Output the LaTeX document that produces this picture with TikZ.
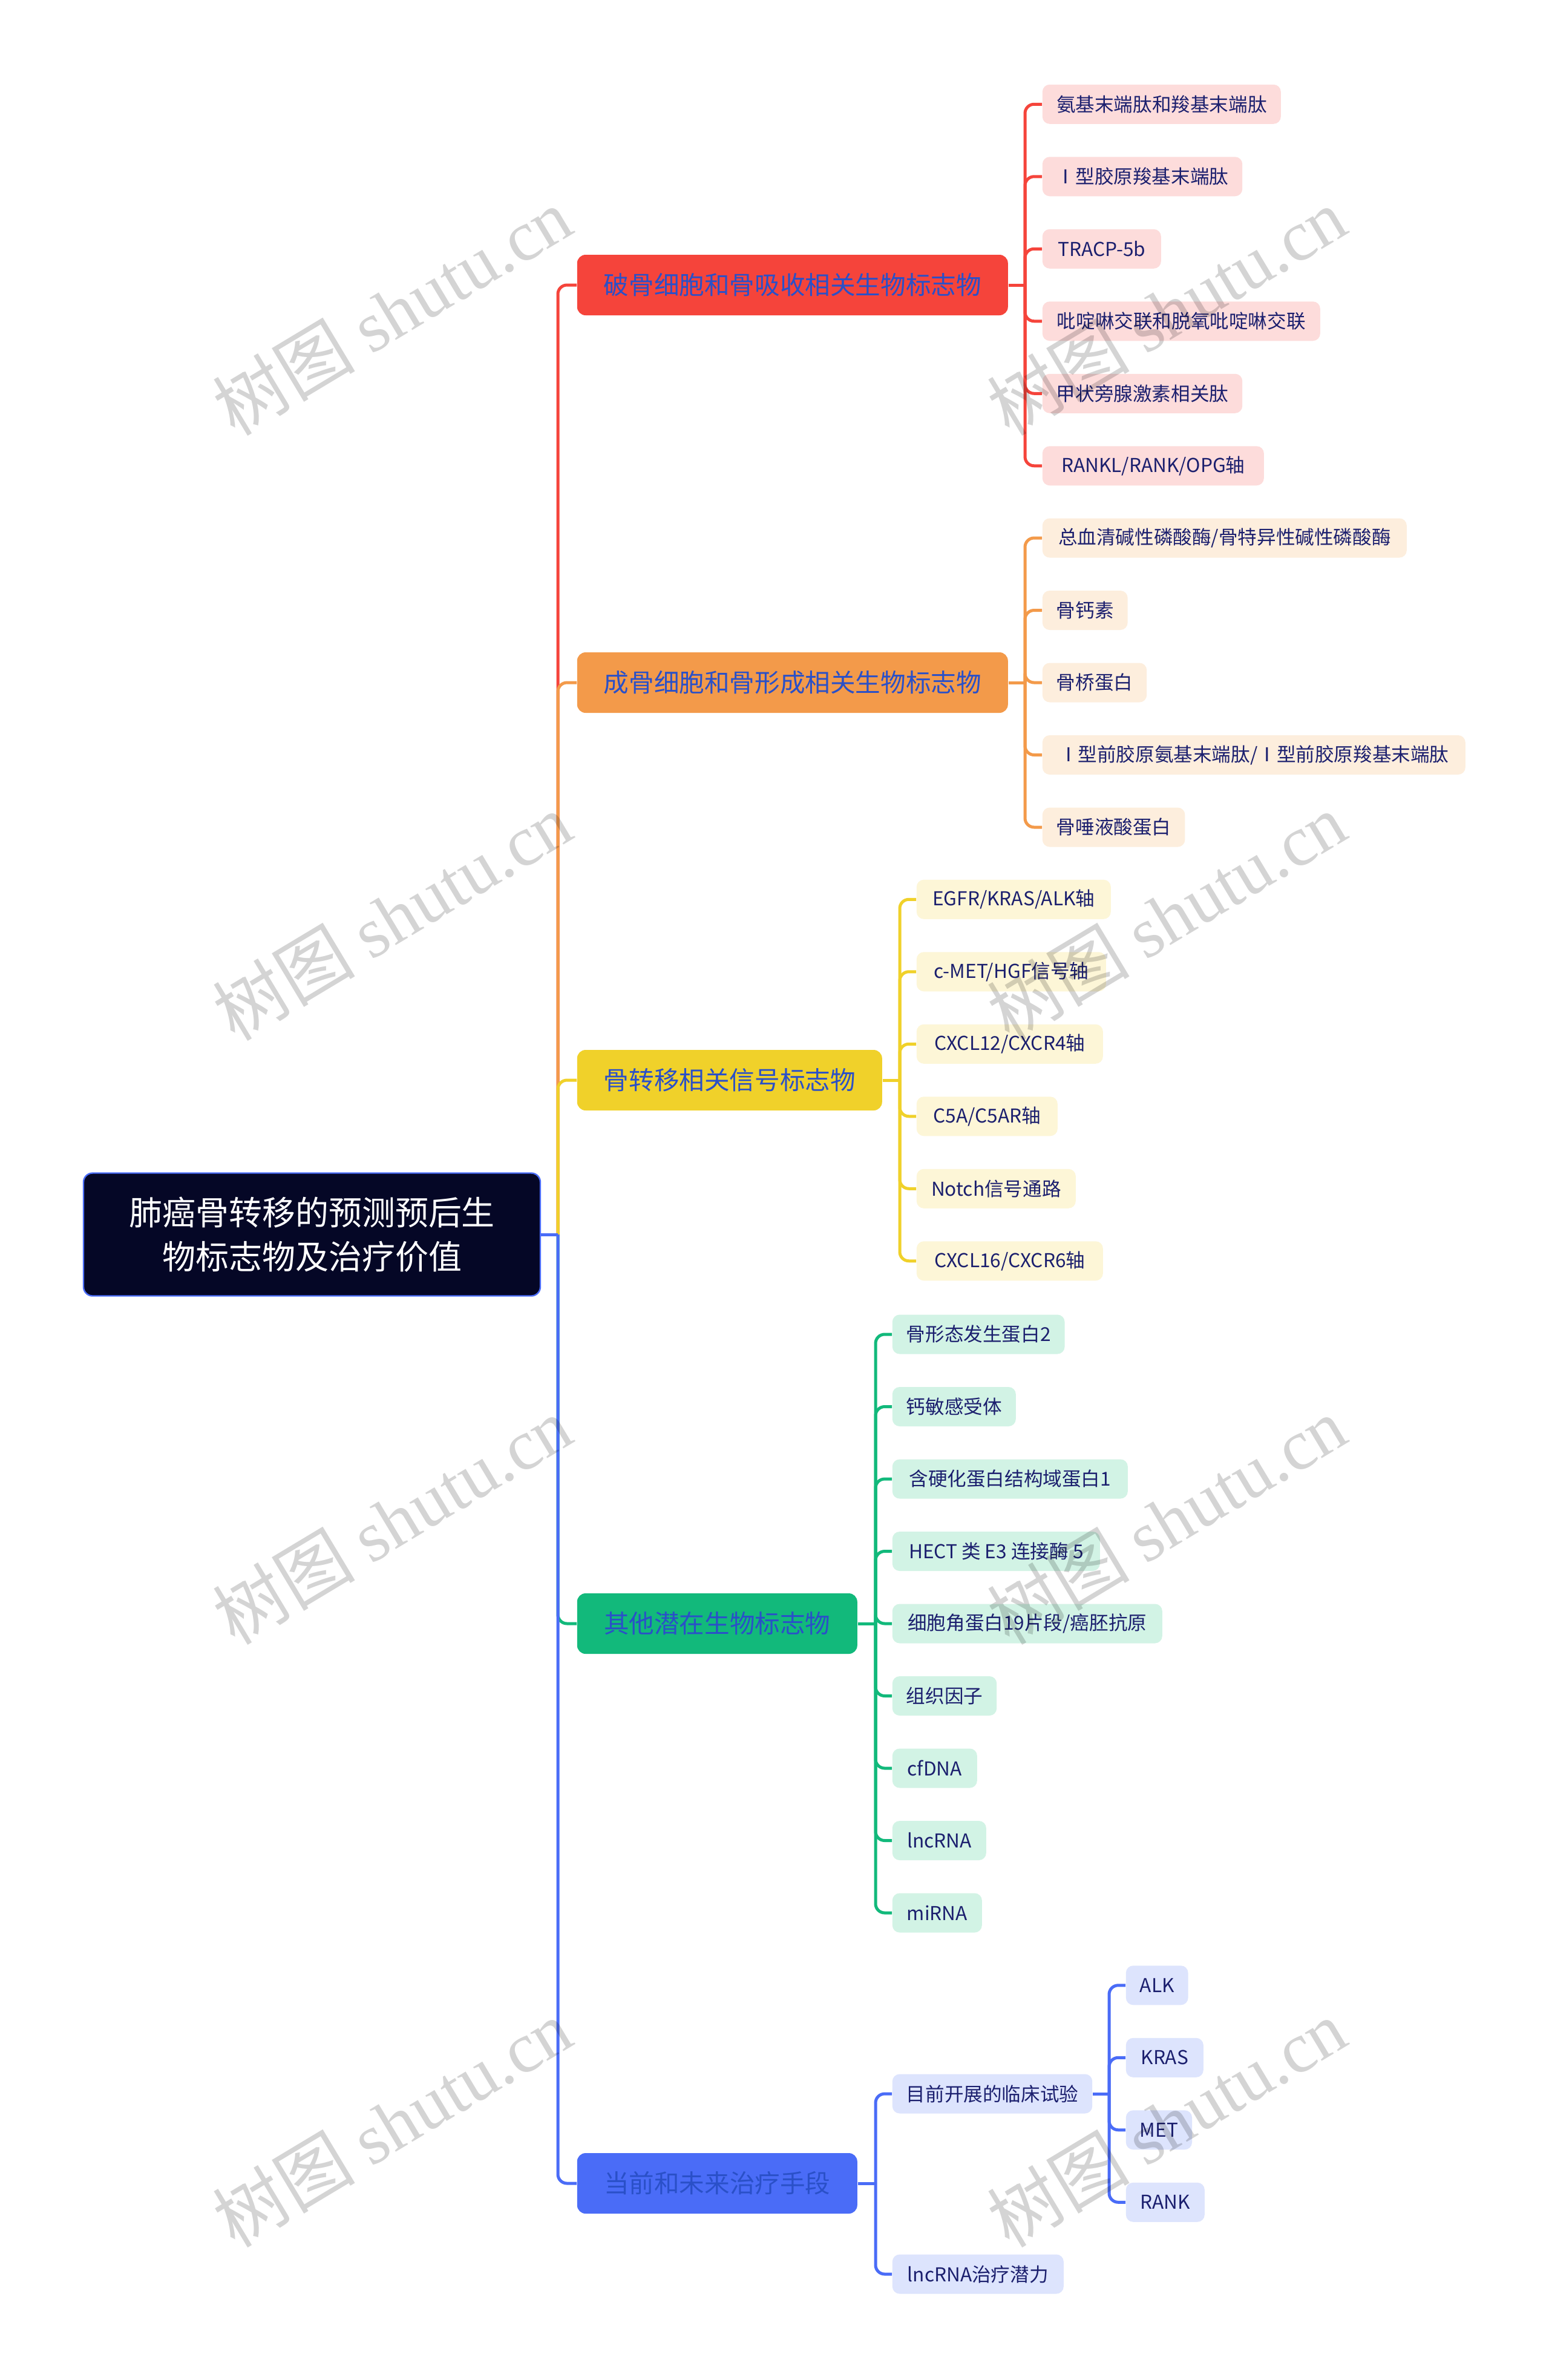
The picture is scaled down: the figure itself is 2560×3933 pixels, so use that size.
\documentclass[tikz,border=0pt]{standalone}
\usepackage{fontspec}
\setmainfont{Noto Sans CJK SC}
\newfontfamily\cjkf{Noto Sans CJK SC}
\newfontfamily\wmserif{Liberation Serif}
\definecolor{cred}{HTML}{F5443B}
\definecolor{corange}{HTML}{F39A4A}
\definecolor{cyellow}{HTML}{F0D12A}
\definecolor{cgreen}{HTML}{12B97B}
\definecolor{cblue}{HTML}{4A6CF7}
\definecolor{lred}{HTML}{FDDCDB}
\definecolor{lorange}{HTML}{FDEEDD}
\definecolor{lyellow}{HTML}{FDF6D7}
\definecolor{lgreen}{HTML}{D2F3E5}
\definecolor{lblue}{HTML}{DDE4FD}
\definecolor{rootfill}{HTML}{050726}
\definecolor{lonetext}{HTML}{2A50C8}
\definecolor{navy}{HTML}{1B1F6E}
\begin{document}
\begin{tikzpicture}[x=0.25pt,y=-0.25pt,
  rootbox/.style={draw=cblue, line width=0.6pt, fill=rootfill, rounded corners=3.75pt, text=white,
    font=\fontsize{13.75pt}{18.2pt}\selectfont, align=center, minimum width=188.75pt, minimum height=50.75pt, inner sep=0pt},
  lvone/.style={rounded corners=3.5pt, minimum height=25pt, inner sep=0pt, anchor=west,
    font=\fontsize{10.4pt}{12pt}\selectfont, text=lonetext},
  lvtwo/.style={rounded corners=3pt, minimum height=16.25pt, inner xsep=5.75pt, inner ysep=0pt, anchor=west,
    font=\fontsize{7.9pt}{9.5pt}\selectfont, text=navy},
  link/.style={line width=1.25pt, rounded corners=3.75pt},
  wm/.style={black, opacity=0.17, font=\fontsize{29.5pt}{33pt}\selectfont, inner sep=0pt}
]
\fill[white] (0,0) rectangle (2560,3933);
\useasboundingbox (0,0) rectangle (2560,3933);

% root
\node[rootbox] (root) at (515.5,2040) {肺癌骨转移的预测预后生\\物标志物及治疗价值};
\coordinate (j0) at (922,2040);

% level 1
\node[lvone, fill=cred, minimum width=178pt] (b1) at (953,471) {破骨细胞和骨吸收相关生物标志物};
\node[lvone, fill=corange, minimum width=178pt] (b2) at (953,1128) {成骨细胞和骨形成相关生物标志物};
\node[lvone, fill=cyellow, minimum width=126pt] (b3) at (953,1785) {骨转移相关信号标志物};
\node[lvone, fill=cgreen, minimum width=115.75pt] (b4) at (953,2683) {其他潜在生物标志物};
\node[lvone, fill=cblue, minimum width=115.75pt] (b5) at (953,3608) {当前和未来治疗手段};

\draw[link, cred] (j0) |- (b1.west);
\draw[link, corange] (j0) |- (b2.west);
\draw[link, cyellow] (j0) |- (b3.west);
\draw[link, cgreen] (j0) |- (b4.west);
\draw[link, cblue] (j0) |- (b5.west);
\draw[link, cblue] (root.east) -- (j0);

% branch 1
\coordinate (t1) at (1694,471);
\node[lvtwo, fill=lred, minimum width=98.5pt] (a1) at (1722,172.25) {氨基末端肽和羧基末端肽};
\node[lvtwo, fill=lred, minimum width=82pt] (a2) at (1722,291.75) {Ⅰ型胶原羧基末端肽};
\node[lvtwo, fill=lred, minimum width=49pt] (a3) at (1722,411.25) {TRACP-5b};
\node[lvtwo, fill=lred, minimum width=114.75pt] (a4) at (1722,530.75) {吡啶啉交联和脱氧吡啶啉交联};
\node[lvtwo, fill=lred, minimum width=82pt] (a5) at (1722,650.25) {甲状旁腺激素相关肽};
\node[lvtwo, fill=lred, minimum width=91.5pt] (a6) at (1722,769.75) {RANKL/RANK/OPG轴};
\draw[link, cred] (b1.east) -- (t1);
\foreach \n in {a1,a2,a3,a4,a5,a6} \draw[link, cred] (t1) |- (\n.west);

% branch 2
\coordinate (t2) at (1694,1128);
\node[lvtwo, fill=lorange, minimum width=150.5pt] (o1) at (1722,889) {总血清碱性磷酸酶/骨特异性碱性磷酸酶};
\node[lvtwo, fill=lorange, minimum width=33.75pt] (o2) at (1722,1008.5) {骨钙素};
\node[lvtwo, fill=lorange, minimum width=41.25pt] (o3) at (1722,1128) {骨桥蛋白};
\node[lvtwo, fill=lorange, minimum width=174.75pt] (o4) at (1722,1247.5) {Ⅰ型前胶原氨基末端肽/Ⅰ型前胶原羧基末端肽};
\node[lvtwo, fill=lorange, minimum width=57.75pt] (o5) at (1722,1367) {骨唾液酸蛋白};
\draw[link, corange] (b2.east) -- (t2);
\foreach \n in {o1,o2,o3,o4,o5} \draw[link, corange] (t2) |- (\n.west);

% branch 3
\coordinate (t3) at (1487,1785);
\node[lvtwo, fill=lyellow, minimum width=80.25pt] (y1) at (1514,1486.25) {EGFR/KRAS/ALK轴};
\node[lvtwo, fill=lyellow, minimum width=78.25pt] (y2) at (1514,1605.75) {c-MET/HGF信号轴};
\node[lvtwo, fill=lyellow, minimum width=77pt] (y3) at (1514,1725.25) {CXCL12/CXCR4轴};
\node[lvtwo, fill=lyellow, minimum width=58.25pt] (y4) at (1514,1844.75) {C5A/C5AR轴};
\node[lvtwo, fill=lyellow, minimum width=65.75pt] (y5) at (1514,1964.25) {Notch信号通路};
\node[lvtwo, fill=lyellow, minimum width=77pt] (y6) at (1514,2083.75) {CXCL16/CXCR6轴};
\draw[link, cyellow] (b3.east) -- (t3);
\foreach \n in {y1,y2,y3,y4,y5,y6} \draw[link, cyellow] (t3) |- (\n.west);

% branch 4
\coordinate (t4) at (1447,2683);
\node[lvtwo, fill=lgreen, minimum width=70.75pt] (g1) at (1474,2205) {骨形态发生蛋白2};
\node[lvtwo, fill=lgreen, minimum width=49.5pt] (g2) at (1474,2324.5) {钙敏感受体};
\node[lvtwo, fill=lgreen, minimum width=97.25pt] (g3) at (1474,2444) {含硬化蛋白结构域蛋白1};
\node[lvtwo, fill=lgreen, minimum width=85.75pt] (g4) at (1474,2563.5) {HECT 类 E3 连接酶 5};
\node[lvtwo, fill=lgreen, minimum width=111.5pt] (g5) at (1474,2683) {细胞角蛋白19片段/癌胚抗原};
\node[lvtwo, fill=lgreen, minimum width=42pt] (g6) at (1474,2802.5) {组织因子};
\node[lvtwo, fill=lgreen, minimum width=35pt] (g7) at (1474,2922) {cfDNA};
\node[lvtwo, fill=lgreen, minimum width=38.75pt] (g8) at (1474,3041.5) {lncRNA};
\node[lvtwo, fill=lgreen, minimum width=37pt] (g9) at (1474,3161) {miRNA};
\draw[link, cgreen] (b4.east) -- (t4);
\foreach \n in {g1,g2,g3,g4,g5,g6,g7,g8,g9} \draw[link, cgreen] (t4) |- (\n.west);

% branch 5
\coordinate (t5) at (1447,3608);
\node[lvtwo, fill=lblue, minimum width=82pt] (u1) at (1474,3460) {目前开展的临床试验};
\node[lvtwo, fill=lblue, minimum width=70.75pt] (u2) at (1474,3758) {lncRNA治疗潜力};
\draw[link, cblue] (b5.east) -- (t5);
\foreach \n in {u1,u2} \draw[link, cblue] (t5) |- (\n.west);

\coordinate (t6) at (1833,3460);
\node[lvtwo, fill=lblue, minimum width=25pt] (v1) at (1860,3280.75) {ALK};
\node[lvtwo, fill=lblue, minimum width=32pt] (v2) at (1860,3400.25) {KRAS};
\node[lvtwo, fill=lblue, minimum width=27pt] (v3) at (1860,3519.75) {MET};
\node[lvtwo, fill=lblue, minimum width=32.5pt] (v4) at (1860,3639.25) {RANK};
\draw[link, cblue] (u1.east) -- (t6);
\foreach \n in {v1,v2,v3,v4} \draw[link, cblue] (t6) |- (\n.west);

% watermarks
\foreach \wx/\wy [count=\k] in {648/514, 1928/514, 648/1514, 1928/1514, 648/2512, 1928/2512, 648/3508, 1928/3508}
  \node[wm, rotate=31] (wm\k) at (\wx,\wy) {\cjkf 树图 \wmserif shutu.cn};
\end{tikzpicture}
\end{document}
